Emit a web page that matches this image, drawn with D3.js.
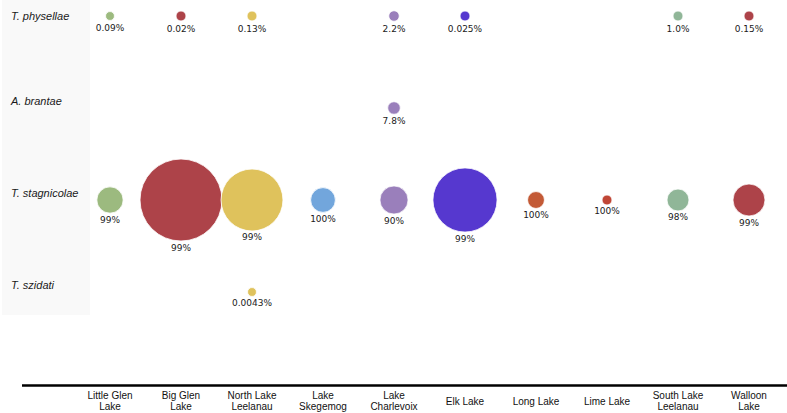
<!DOCTYPE html>
<html>
<head>
<meta charset="utf-8">
<script src="https://cdn.jsdelivr.net/npm/d3@7"></script>
<style>
  html, body { margin: 0; padding: 0; background: #fff; }
  svg { display: block; }
</style>
</head>
<body>
<svg id="chart" width="787" height="413"></svg>
<script>
// ---- data ----
const lakes = ["Little Glen Lake", "Big Glen Lake", "North Lake Leelanau", "Lake Skegemog",
  "Lake Charlevoix", "Elk Lake", "Long Lake", "Lime Lake", "South Lake Leelanau", "Walloon Lake"];
const lakeLines = [["Little Glen", "Lake"], ["Big Glen", "Lake"], ["North Lake", "Leelanau"],
  ["Lake", "Skegemog"], ["Lake", "Charlevoix"], ["Elk Lake"], ["Long Lake"], ["Lime Lake"],
  ["South Lake", "Leelanau"], ["Walloon", "Lake"]];
const species = ["T. physellae", "A. brantae", "T. stagnicolae", "T. szidati"];
const lakeColors = ["#9cba7f", "#ad4349", "#dfc25c", "#72a6dc", "#9a7fbb",
  "#5638cf", "#c35a36", "#c04636", "#90b698", "#ad4349"];

// percentage labels (null = absent)
const physellaePct = ["0.09%", "0.02%", "0.13%", null, "2.2%", "0.025%", null, null, "1.0%", "0.15%"];
const brantaePct   = [null, null, null, null, "7.8%", null, null, null, null, null];
const stagnicolaePct = ["99%", "99%", "99%", "100%", "90%", "99%", "100%", "100%", "98%", "99%"];
const szidatiPct   = [null, null, "0.0043%", null, null, null, null, null, null, null];

// relative bubble sizes
const physellaeSize = [20, 25, 25, 0, 28, 25, 0, 0, 25, 25];
const brantaeSize   = [0, 0, 0, 0, 40, 0, 0, 0, 0, 0];
const stagnicolaeSize = [175, 1700, 970, 155, 200, 1040, 72, 25, 122, 260];
const szidatiSize   = [0, 0, 20, 0, 0, 0, 0, 0, 0, 0];

const pctRows = [physellaePct, brantaePct, stagnicolaePct, szidatiPct];
const sizeRows = [physellaeSize, brantaeSize, stagnicolaeSize, szidatiSize];

// ---- build records ----
const records = [];
species.forEach((s, si) => {
  lakes.forEach((l, li) => {
    if (pctRows[si][li] != null) {
      records.push({ species: s, si, lake: l, li, pct: pctRows[si][li], size: sizeRows[si][li], color: lakeColors[li] });
    }
  });
});

// ---- chart ----
const svg = d3.select("#chart");
const x = d3.scalePoint().domain(lakes).range([110, 749]);
const y = d3.scalePoint().domain(species).range([16, 292]);
const r = d3.scaleSqrt().domain([0, 1700]).range([0, 41]);

// left grey panel
svg.append("rect").attr("x", 2).attr("y", 0).attr("width", 88).attr("height", 315).attr("fill", "#f9f9f9");

// species labels
svg.append("g").selectAll("text").data(species).join("text")
  .attr("x", 11)
  .attr("y", (d, i) => y(d) - (i === 0 ? 0 : 6.5))
  .attr("dy", "0.35em")
  .attr("font-family", "Liberation Sans, Arial, sans-serif")
  .attr("font-style", "italic")
  .attr("font-size", 11)
  .attr("fill", "#1a1a1a")
  .text(d => d);

// bubbles
const g = svg.append("g");
g.selectAll("circle").data(records).join("circle")
  .attr("cx", d => x(d.lake))
  .attr("cy", d => y(d.species))
  .attr("r", d => r(d.size))
  .attr("fill", d => d.color)
  .attr("stroke", "#fff")
  .attr("stroke-width", 0.8);

g.selectAll("text").data(records).join("text")
  .attr("x", d => x(d.lake))
  .attr("y", d => y(d.species) + r(d.size) + (d.si === 0 ? 11 : 9.5))
  .attr("text-anchor", "middle")
  .attr("font-family", "DejaVu Sans, Verdana, sans-serif")
  .attr("font-size", 9)
  .attr("fill", "#1a1a1a")
  .text(d => d.pct);

// bottom axis
const axisY = 385.5;
svg.append("line").attr("x1", 22).attr("x2", 787).attr("y1", axisY).attr("y2", axisY)
  .attr("stroke", "#000").attr("stroke-width", 2.5);

const ticks = svg.append("g").selectAll("text").data(lakes).join("text")
  .attr("x", d => x(d))
  .attr("text-anchor", "middle")
  .attr("font-family", "Liberation Sans, Arial, sans-serif")
  .attr("font-size", 10)
  .attr("fill", "#111");
ticks.each(function(d, i) {
  const lines = lakeLines[i];
  const t = d3.select(this);
  const y0 = lines.length === 1 ? 404.5 : 399;
  lines.forEach((ln, k) => {
    t.append("tspan").attr("x", x(d)).attr("y", y0 + k * 11).text(ln);
  });
});
</script>
</body>
</html>
